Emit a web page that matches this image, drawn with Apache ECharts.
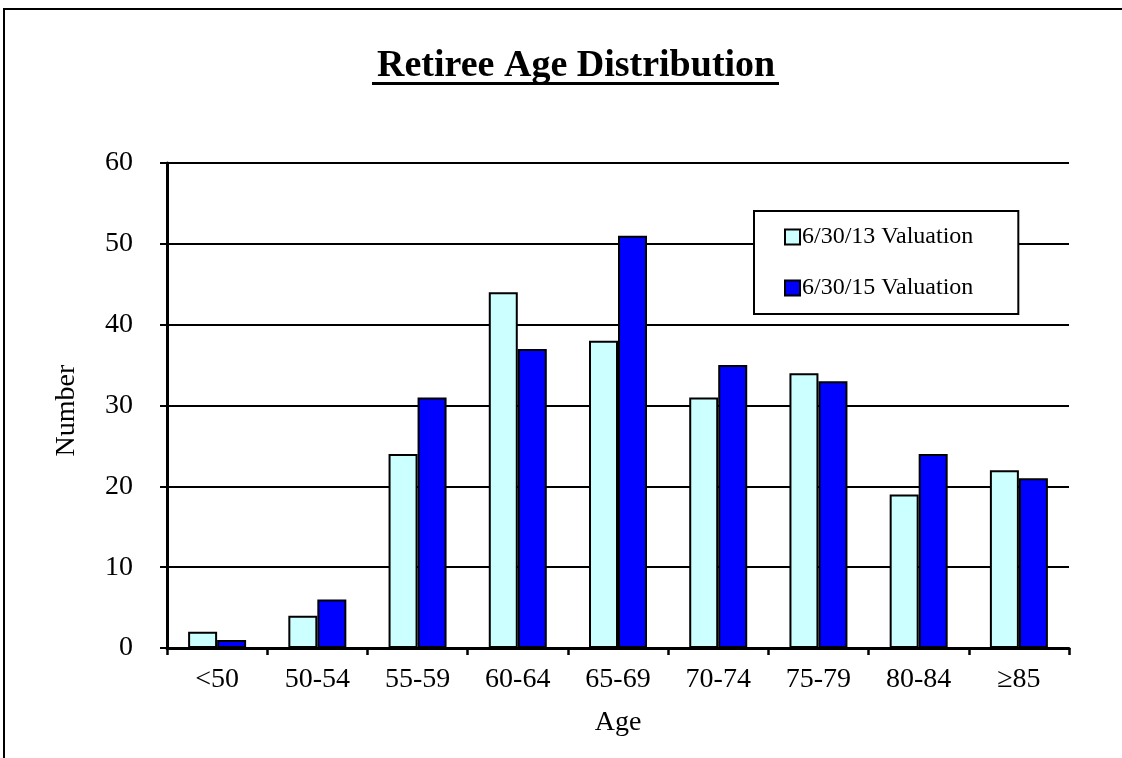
<!DOCTYPE html>
<html>
<head>
<meta charset="utf-8">
<script src="https://cdn.jsdelivr.net/npm/echarts@6/dist/echarts.min.js"></script>
<style>
  html, body { margin: 0; padding: 0; background: #fff; }
  #chart { width: 1122px; height: 758px; }
</style>
</head>
<body>
<div id="chart"></div>
<script>
// Age bands and retiree counts for the two valuation dates
const ageBands = ['<50', '50-54', '55-59', '60-64', '65-69', '70-74', '75-79', '80-84', '\u226585'];
const val2013 = [2, 4, 24, 44, 38, 31, 34, 19, 22];
const val2015 = [1, 6, 31, 37, 51, 35, 33, 24, 21];
const seriesNames = ['6/30/13 Valuation', '6/30/15 Valuation'];
const yTicks = [0, 10, 20, 30, 40, 50, 60];

const FONT = '"Liberation Serif", "Times New Roman", serif';

const chart = echarts.init(document.getElementById('chart'), null, { renderer: 'canvas' });

chart.setOption({
  backgroundColor: '#ffffff',
  animation: false,
  title: {
    text: 'Retiree Age Distribution',
    left: 372,
    top: 42,
    textStyle: { fontFamily: FONT, fontWeight: 'bold', fontSize: 38, color: '#000' }
  },
  graphic: [
    // outer frame
    { type: 'rect', shape: { x: 4, y: 9, width: 1300, height: 1000 },
      style: { fill: 'none', stroke: '#000', lineWidth: 2 }, silent: true, z: 100 },
    // title underline
    { type: 'rect', shape: { x: 372, y: 82, width: 407, height: 3 },
      style: { fill: '#000' }, silent: true, z: 100 }
  ],
  legend: {
    data: seriesNames,
    orient: 'vertical',
    left: 754,
    top: 211,
    padding: [14, 45, 14, 30],
    itemGap: 27,
    itemWidth: 15,
    itemHeight: 15,
    icon: 'rect',
    backgroundColor: '#fff',
    borderColor: '#000',
    borderWidth: 2,
    textStyle: { fontFamily: FONT, fontSize: 24, color: '#000', padding: [0, 0, 0, -3] },
    z: 10
  },
  grid: { left: 167, right: 53, top: 163, bottom: 110, containLabel: false },
  xAxis: {
    type: 'category',
    data: ageBands,
    name: 'Age',
    nameLocation: 'middle',
    nameGap: 61,
    nameTextStyle: { fontFamily: FONT, fontSize: 28, color: '#000' },
    axisLine: { lineStyle: { color: '#000', width: 3 } },
    axisTick: { show: true, inside: false, length: 7, lineStyle: { color: '#000', width: 2.5 } },
    axisLabel: { fontFamily: FONT, fontSize: 28, color: '#000', margin: 18 },
    splitLine: { show: false }
  },
  yAxis: {
    type: 'value',
    min: yTicks[0],
    max: yTicks[yTicks.length - 1],
    interval: 10,
    name: 'Number',
    nameLocation: 'middle',
    nameGap: 86,
    nameRotate: 90,
    nameTextStyle: { fontFamily: FONT, fontSize: 28, color: '#000', padding: [0, 10, 0, 0] },
    axisLine: { show: true, lineStyle: { color: '#000', width: 3 } },
    axisTick: { show: true, inside: false, length: 7, lineStyle: { color: '#000', width: 2 } },
    axisLabel: { fontFamily: FONT, fontSize: 28, color: '#000', margin: 34 },
    splitLine: { show: true, lineStyle: { color: '#000', width: 2 } }
  },
  series: [
    {
      name: seriesNames[0],
      type: 'bar',
      data: val2013,
      barWidth: 29,
      barGap: '0%',
      itemStyle: { color: '#CCFFFF', borderColor: '#000', borderWidth: 2 }
    },
    {
      name: seriesNames[1],
      type: 'bar',
      data: val2015,
      barWidth: 29,
      barGap: '0%',
      itemStyle: { color: '#0000FF', borderColor: '#000', borderWidth: 2 }
    }
  ]
});
</script>
</body>
</html>
